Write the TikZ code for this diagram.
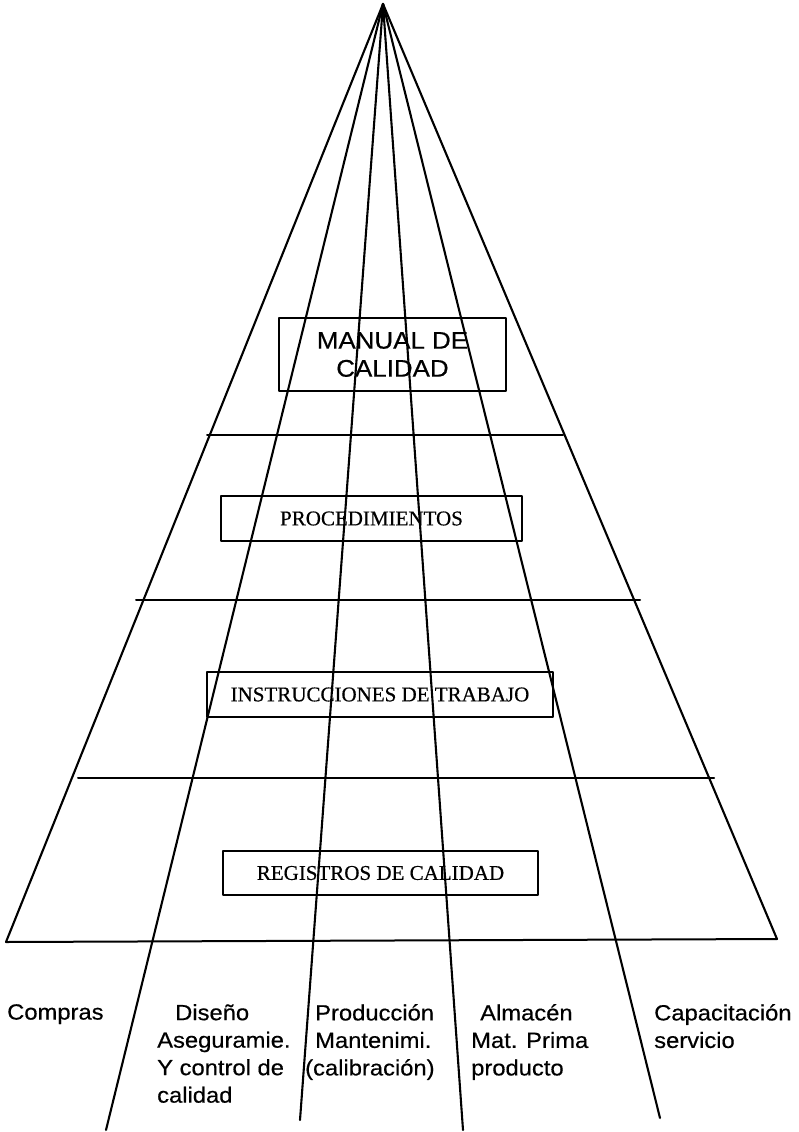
\documentclass[tikz,border=0pt]{standalone}
\usepackage{fontspec}
\setmainfont[FakeBold=0.5]{Liberation Serif}
\newfontfamily\arialfont[FakeStretch=1.08, FakeBold=0.5]{Liberation Sans}
\tikzset{
  ray/.style={line width=2.1pt},
  rung/.style={line width=2pt},
  docbox/.style={draw, line width=1.8pt, inner sep=0pt, font=\fontsize{21}{25}\selectfont},
  area/.style={anchor=north west, inner sep=0pt, align=left, font=\arialfont\fontsize{22}{27.5}\selectfont}
}
\begin{document}
\begin{tikzpicture}[x=1pt, y=-1pt, line cap=round, line join=round]
  \useasboundingbox (0,0) rectangle (799,1132);

  \coordinate (T) at (383,4);
  \coordinate (L) at (6,942);
  \coordinate (R) at (777,939);

  \coordinate (D1) at (106,1130);
  \coordinate (D2) at (300,1120);
  \coordinate (D3) at (463,1130);
  \coordinate (D4) at (660,1118);

  \coordinate (H1a) at (207,435);
  \coordinate (H1b) at (563,435);
  \coordinate (H2a) at (136,600);
  \coordinate (H2b) at (640,600);
  \coordinate (H3a) at (78,778);
  \coordinate (H3b) at (714,778);

  \draw[ray] (L)--(T)--(R);
  \draw[ray] (T)--(D1);
  \draw[ray] (T)--(D2);
  \draw[ray] (T)--(D3);
  \draw[ray] (T)--(D4);

  \draw[rung] (H1a)--(H1b);
  \draw[rung] (H2a)--(H2b);
  \draw[rung] (H3a)--(H3b);
  \draw[rung] (L)--(R);

  \node[docbox, minimum width=227pt, minimum height=73pt, align=center,
        font=\arialfont\fontsize{24}{28}\selectfont] (manual) at (392.5,354.5) {MANUAL DE\\CALIDAD};
  \node[docbox, minimum width=301pt, minimum height=45pt] (proc) at (371.5,518.5) {PROCEDIMIENTOS};
  \node[docbox, minimum width=346pt, minimum height=45pt] (instr) at (380,694.5) {INSTRUCCIONES DE TRABAJO};
  \node[docbox, minimum width=315pt, minimum height=44pt] (regis) at (380.5,873) {REGISTROS DE CALIDAD};

  \node[area] (compras) at (7,1004) {Compras};
  \node[area] (diseno) at (157,1004) {\hspace*{18pt}Diseño\\Aseguramie.\\Y control de\\calidad};
  \node[area] (produc) at (305,1004) {\hspace*{10pt}Producción\\\hspace*{10pt}Mantenimi.\\(calibración)};
  \node[area] (almacen) at (471,1004) {\hspace*{9pt}Almacén\\Mat. Prima\\producto};
  \node[area] (capac) at (654,1004) {Capacitación\\servicio};
\end{tikzpicture}
\end{document}
